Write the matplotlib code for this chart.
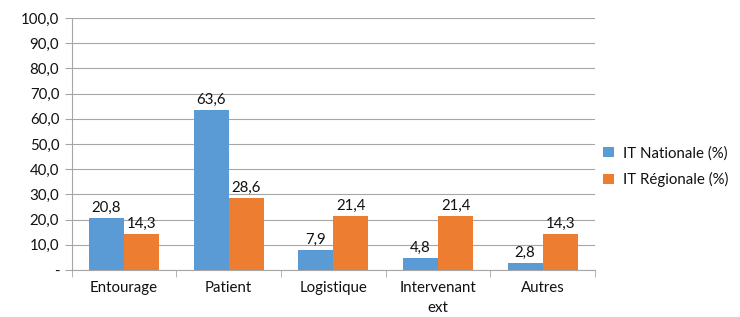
import matplotlib.pyplot as plt
import numpy as np

categories = ['Entourage', 'Patient', 'Logistique', 'Intervenant\next', 'Autres']
nationale = [20.8, 63.6, 7.9, 4.8, 2.8]
regionale = [14.3, 28.6, 21.4, 21.4, 14.3]
yticks = [0, 10, 20, 30, 40, 50, 60, 70, 80, 90, 100]

plt.rcParams['font.family'] = ['Lato', 'DejaVu Sans']

fig = plt.figure(figsize=(7.4, 3.17), dpi=100)
ax = fig.add_axes([0.097, 0.148, 0.707, 0.795])

x = np.arange(len(categories))
w = 0.335
b1 = ax.bar(x - w / 2, nationale, w, color='#5B9BD5', label='IT Nationale (%)', zorder=3)
b2 = ax.bar(x + w / 2, regionale, w, color='#ED7D31', label='IT Régionale (%)', zorder=3)

for bars, vals in ((b1, nationale), (b2, regionale)):
    for r, v in zip(bars, vals):
        ax.text(r.get_x() + r.get_width() / 2, v + 1.2, f'{v:.1f}'.replace('.', ','),
                ha='center', va='bottom', fontsize=10.8, color='#111111')

ax.set_xlim(-0.5, len(categories) - 0.5)
ax.set_ylim(0, 100)
ax.set_yticks(yticks)
ax.set_yticklabels(['-'] + [f'{t:.1f}'.replace('.', ',') for t in yticks[1:]])
ax.set_xticks(x)
ax.set_xticklabels(categories, linespacing=1.5)
ax.set_xticks(np.arange(-0.5, len(categories)), minor=True)
ax.tick_params(axis='x', which='major', length=0, pad=8, labelsize=10.8, labelcolor='#111111')
ax.tick_params(axis='x', which='minor', length=5, color='#A6A6A6')
ax.tick_params(axis='y', length=5, color='#A6A6A6', labelsize=10.8, labelcolor='#111111', pad=4)

ax.grid(axis='y', color='#A6A6A6', linewidth=0.8, zorder=0)
for s in ('top', 'right'):
    ax.spines[s].set_visible(False)
for s in ('left', 'bottom'):
    ax.spines[s].set_color('#A6A6A6')

leg = ax.legend(loc='center left', bbox_to_anchor=(0.99, 0.41), frameon=False,
                fontsize=10.8, handlelength=0.7, handleheight=0.7, labelspacing=0.8,
                handletextpad=0.6)
for t in leg.get_texts():
    t.set_color('#111111')

fig.savefig('out.png')
